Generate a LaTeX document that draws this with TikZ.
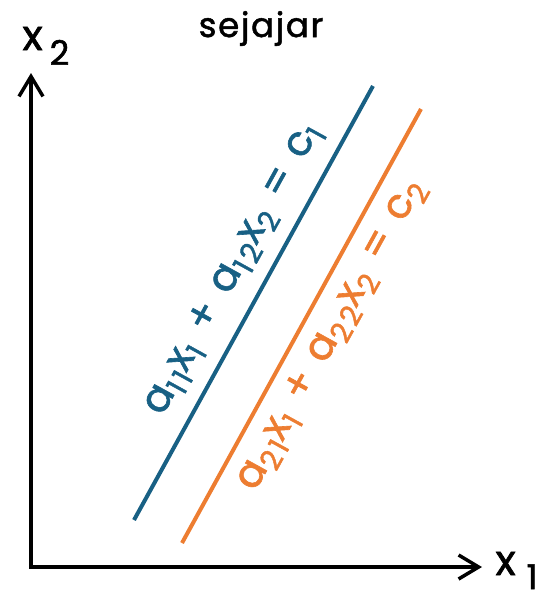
\documentclass[tikz,border=0pt]{standalone}
\usepackage{fontspec}
\setmainfont{Poppins}[FakeBold=1.5]
\usetikzlibrary{arrows.meta}
\definecolor{lineblue}{RGB}{24,96,132}
\definecolor{lineorange}{RGB}{237,125,49}
\newcommand{\lsub}[1]{\raisebox{-9pt}{\fontsize{29}{29}\selectfont#1}}
\newcommand{\gap}{\hspace{16pt}}

\begin{document}
\begin{tikzpicture}[x=1pt,y=-1pt,>={Straight Barb[length=20pt,width=24pt]},
  axis/.style={line width=3.5pt,<->},
  eqline/.style={line width=4pt,draw=#1},
  eqlabel/.style={sloped,inner sep=0pt,text=#1,font=\fontsize{41}{44}\selectfont\addfontfeature{LetterSpace=10}}]
\useasboundingbox (0,0) rectangle (549,592);
% axes
\coordinate (O) at (31,567);
\coordinate (xend) at (482,567);
\coordinate (yend) at (31,73);
\draw[axis] (yend) -- (O) -- (xend);
\node[anchor=base west,font=\fontsize{42}{44}\selectfont] (x2lab) at (19,50) {x\,\raisebox{-15pt}{\fontsize{34}{34}\selectfont 2}};
\node[anchor=base west,font=\fontsize{42}{44}\selectfont] (x1lab) at (492,575) {x\hspace{11pt}\raisebox{-14pt}{\fontsize{34}{34}\selectfont 1}};
\node[anchor=base,font=\fontsize{34}{36}\selectfont\addfontfeature{LetterSpace=5}] (title) at (261,37) {sejajar};
% two parallel lines
\coordinate (b1) at (134,520);
\coordinate (b2) at (373,86);
\coordinate (o1) at (182,543);
\coordinate (o2) at (421,109);
\draw[eqline=lineblue] (b1) -- (b2)
  node[eqlabel=lineblue,pos=.54,above=14pt] (eq1) {a\lsub{11}x\lsub{1}\gap+\gap a\lsub{12}x\lsub{2}\gap=\gap c\lsub{1}};
\draw[eqline=lineorange] (o1) -- (o2)
  node[eqlabel=lineorange,pos=.513,below=12pt] (eq2) {a\lsub{21}x\lsub{1}\gap+\gap a\lsub{22}x\lsub{2}\gap=\gap c\lsub{2}};
\end{tikzpicture}
\end{document}
